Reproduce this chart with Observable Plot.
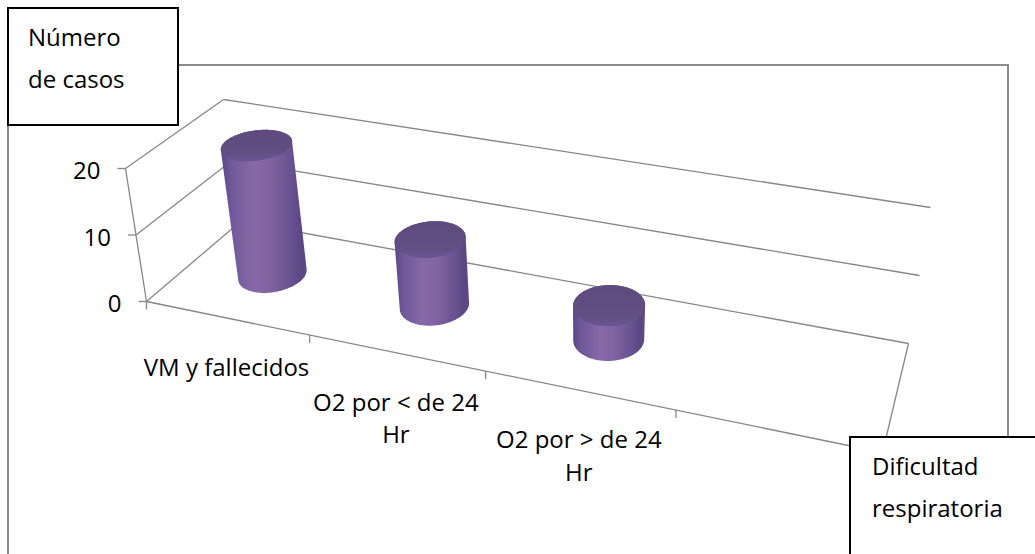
<!DOCTYPE html>
<html lang="es">
<head>
<meta charset="utf-8">
<title>Dificultad respiratoria – número de casos</title>
<script src="https://cdn.jsdelivr.net/npm/d3@7"></script>
<script src="https://cdn.jsdelivr.net/npm/@observablehq/plot@0.6"></script>
<style>
  html, body { margin: 0; padding: 0; background: #fff; }
  #chart {
    position: relative; width: 1035px; height: 554px; overflow: hidden;
    background: #fff; font-family: "Open Sans", sans-serif; color: #000;
  }
  #frame {
    position: absolute; left: 7px; top: 64px; width: 1002px; height: 700px;
    box-sizing: border-box; border: 2px solid #8c8c8c;
  }
  #plot { position: absolute; left: 0; top: 0; }
  .axis-title {
    position: absolute; box-sizing: border-box; background: #fff;
    border: 2px solid #000; font-size: 24px; line-height: 42px;
  }
  .axis-title span { position: absolute; white-space: pre; }
  #ytitle { left: 7px; top: 7px; width: 172px; height: 119px; }
  #ytitle span { left: 19px; top: 7px; }
  #xtitle { left: 849px; top: 436px; width: 220px; height: 160px; }
  #xtitle span { left: 21px; top: 7px; }
</style>
</head>
<body>
<div id="chart">
  <div id="frame"></div>
  <div id="plot"></div>
  <div class="axis-title" id="ytitle"><span>Número
de casos</span></div>
  <div class="axis-title" id="xtitle"><span>Dificultad
respiratoria</span></div>
</div>
<script>
// Categories along the floor (the last slot is an empty category) and the count for each
const categories = ["VM y fallecidos", "O2 por < de 24\nHr", "O2 por > de 24\nHr", ""];
const casos = [20, 10, 5, null];
const yTicks = [0, 10, 20];
const yMax = 20;

// Perspective box: floor and top (value = yMax) planes as screen quads,
// corners ordered front-left, front-right, back-right, back-left.
const floorQuad = [[146, 301], [882, 452], [908, 343], [240, 221]];
const topQuad = [[125, 168], [905, 304], [930, 207], [223, 99]];

// Projective map from the unit square onto a quadrilateral
function squareToQuad(q) {
  const [[x0, y0], [x1, y1], [x2, y2], [x3, y3]] = q;
  const dx1 = x1 - x2, dx2 = x3 - x2, dx3 = x0 - x1 + x2 - x3;
  const dy1 = y1 - y2, dy2 = y3 - y2, dy3 = y0 - y1 + y2 - y3;
  const den = dx1 * dy2 - dx2 * dy1;
  const g = (dx3 * dy2 - dx2 * dy3) / den;
  const h = (dx1 * dy3 - dx3 * dy1) / den;
  const a = x1 - x0 + g * x1, b = x3 - x0 + h * x3, c = x0;
  const d = y1 - y0 + g * y1, e = y3 - y0 + h * y3, f = y0;
  return (u, v) => {
    const z = g * u + h * v + 1;
    return [(a * u + b * v + c) / z, (d * u + e * v + f) / z];
  };
}
const onFloor = squareToQuad(floorQuad);
const onTop = squareToQuad(topQuad);

// Scales: category slot -> u in [0, 1] across the floor, value -> fraction of wall height
const xs = Plot.scale({x: {type: "band", domain: categories, range: [0, 1], padding: 0}});
const ys = Plot.scale({y: {type: "linear", domain: [0, yMax], range: [0, 1]}});
const bw = xs.bandwidth;

// (u, depth, height fraction) -> screen point
function P(u, w, f) {
  const a = onFloor(u, w), b = onTop(u, w);
  return {x: a[0] + (b[0] - a[0]) * f, y: a[1] + (b[1] - a[1]) * f};
}
const seg = (p, q) => ({x1: p.x, y1: p.y, x2: q.x, y2: q.y});

// Walls, floor outline and axis
const edges = [];
for (const t of yTicks) {
  const f = ys.apply(t);
  edges.push(seg(P(0, 0, f), P(0, 1, f)));      // left wall
  edges.push(seg(P(0, 1, f), P(1, 1, f)));      // back wall
}
edges.push(seg(P(0, 0, 0), P(1, 0, 0)));        // floor front edge
edges.push(seg(P(1, 0, 0), P(1, 1, 0)));        // floor right edge
edges.push(seg(P(0, 0, 0), P(0, 0, 1)));        // value axis

// Tick marks
const ticks = [];
for (const t of yTicks) {
  const p = P(0, 0, ys.apply(t));
  ticks.push({x1: p.x - 8, y1: p.y, x2: p.x, y2: p.y});
}
const uEdges = categories.map((c) => xs.apply(c)).concat([1]);
for (const u of uEdges) {
  const p = P(u, 0, 0);
  ticks.push({x1: p.x, y1: p.y, x2: p.x, y2: p.y + 8});
}

// Cylinders
const ru = 0.185 * bw, rw = 0.21, wc = 0.5, N = 90;
const bodies = [], tops = [];
categories.forEach((c, i) => {
  const v = casos[i];
  if (v == null) return;
  const uc = xs.apply(c) + bw / 2;
  const f = ys.apply(v);
  const pts = [];
  const top = [];
  for (let k = 0; k < N; ++k) {
    const th = (2 * Math.PI * k) / N;
    const u = uc + ru * Math.cos(th), w = wc + rw * Math.sin(th);
    const b = P(u, w, 0), t = P(u, w, f);
    pts.push([b.x, b.y], [t.x, t.y]);
    top.push({cat: c, x: t.x, y: t.y});
  }
  for (const [x, y] of d3.polygonHull(pts)) bodies.push({cat: c, x, y});
  tops.push(...top);
});

// Labels
const yLabels = yTicks.map((t) => ({...P(0, 0, ys.apply(t)), text: String(t)}));
const xLabels = categories.filter((c) => c).map((c) => ({...P(xs.apply(c) + bw / 2, 0, 0), text: c}));

const svg = Plot.plot({
  width: 1035,
  height: 554,
  margin: 0,
  x: {type: "identity", axis: null},
  y: {type: "identity", axis: null},
  style: {background: "transparent", fontFamily: "'Open Sans', sans-serif", overflow: "visible"},
  marks: [
    Plot.link(edges, {x1: "x1", y1: "y1", x2: "x2", y2: "y2", stroke: "#878787", strokeWidth: 1.3}),
    Plot.link(ticks, {x1: "x1", y1: "y1", x2: "x2", y2: "y2", stroke: "#878787", strokeWidth: 1.3}),
    Plot.line(bodies, {x: "x", y: "y", z: "cat", curve: "linear-closed", fill: "url(#cyl-body)", stroke: "none"}),
    Plot.line(tops, {x: "x", y: "y", z: "cat", curve: "linear-closed", fill: "url(#cyl-top)", stroke: "none"}),
    Plot.text(yLabels, {x: "x", y: "y", text: "text", textAnchor: "end", dx: -25, dy: 3, fontSize: 24, fill: "#000"}),
    Plot.text(xLabels, {x: "x", y: "y", text: "text", lineAnchor: "top", lineHeight: 1.36, dy: 35, fontSize: 24, fill: "#000"})
  ]
});

// Shading for the cylinder sides and tops
const defs = d3.select(svg).insert("defs", ":first-child");
const body = defs.append("linearGradient").attr("id", "cyl-body").attr("x1", 0).attr("x2", 1).attr("y1", 0).attr("y2", 0);
[[0, "#5b4785"], [0.12, "#6f5899"], [0.38, "#8769a9"], [0.55, "#8264a4"], [0.8, "#6a5392"], [0.95, "#5a4682"], [1, "#5e4a86"]]
  .forEach(([o, c]) => body.append("stop").attr("offset", o).attr("stop-color", c));
const topG = defs.append("linearGradient").attr("id", "cyl-top").attr("x1", 0).attr("x2", 0).attr("y1", 0).attr("y2", 1);
[[0, "#5e4a7c"], [0.7, "#624e81"], [1, "#6a5590"]]
  .forEach(([o, c]) => topG.append("stop").attr("offset", o).attr("stop-color", c));

document.getElementById("plot").append(svg);
</script>
</body>
</html>
